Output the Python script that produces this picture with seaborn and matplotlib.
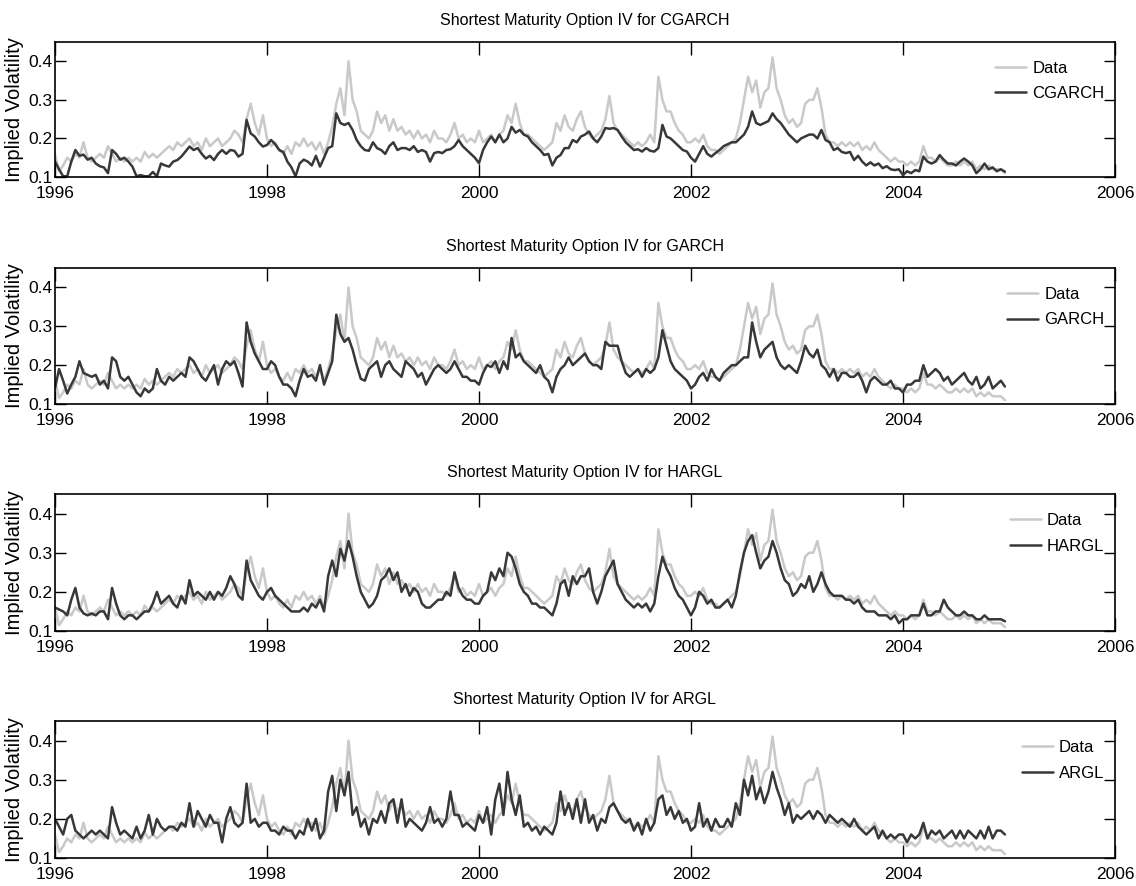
import numpy as np
import pandas as pd
import matplotlib
matplotlib.use("Agg")
import matplotlib.pyplot as plt
import seaborn as sns

# Bi-weekly implied volatility of the shortest-maturity option, 1996-2004
start_year = 1996
obs_per_year = 26

data_iv = [
    # 1996
    0.16, 0.115, 0.13, 0.15, 0.14, 0.16, 0.15, 0.19, 0.15, 0.14, 0.15, 0.16, 0.15,
    0.18, 0.16, 0.14, 0.15, 0.14, 0.15, 0.14, 0.15, 0.14, 0.165, 0.15, 0.16, 0.15,
    # 1997
    0.16, 0.17, 0.18, 0.17, 0.19, 0.18, 0.19, 0.20, 0.18, 0.19, 0.17, 0.20, 0.18,
    0.19, 0.20, 0.18, 0.19, 0.20, 0.22, 0.21, 0.19, 0.25, 0.29, 0.24, 0.21, 0.26,
    # 1998
    0.20, 0.18, 0.19, 0.17, 0.16, 0.18, 0.16, 0.19, 0.18, 0.20, 0.18, 0.19, 0.17,
    0.19, 0.16, 0.19, 0.23, 0.29, 0.33, 0.26, 0.40, 0.30, 0.27, 0.22, 0.21, 0.20,
    # 1999
    0.22, 0.27, 0.24, 0.26, 0.22, 0.25, 0.22, 0.23, 0.21, 0.22, 0.20, 0.22, 0.20,
    0.21, 0.19, 0.22, 0.20, 0.20, 0.19, 0.21, 0.24, 0.20, 0.21, 0.19, 0.20, 0.19,
    # 2000
    0.22, 0.19, 0.20, 0.21, 0.19, 0.21, 0.22, 0.26, 0.24, 0.29, 0.24, 0.21, 0.21,
    0.20, 0.19, 0.18, 0.17, 0.18, 0.19, 0.24, 0.22, 0.26, 0.23, 0.22, 0.25, 0.27,
    # 2001
    0.23, 0.21, 0.20, 0.21, 0.22, 0.25, 0.31, 0.24, 0.22, 0.21, 0.20, 0.19, 0.18,
    0.19, 0.18, 0.19, 0.21, 0.19, 0.36, 0.30, 0.27, 0.27, 0.24, 0.22, 0.21, 0.19,
    # 2002
    0.19, 0.20, 0.19, 0.21, 0.18, 0.17, 0.17, 0.16, 0.17, 0.18, 0.19, 0.20, 0.24,
    0.30, 0.36, 0.32, 0.35, 0.28, 0.32, 0.33, 0.41, 0.33, 0.30, 0.26, 0.24, 0.25,
    # 2003
    0.23, 0.24, 0.29, 0.30, 0.30, 0.33, 0.28, 0.21, 0.19, 0.19, 0.18, 0.19, 0.18,
    0.19, 0.18, 0.19, 0.17, 0.18, 0.17, 0.19, 0.17, 0.16, 0.15, 0.14, 0.15, 0.14,
    # 2004
    0.14, 0.13, 0.14, 0.13, 0.14, 0.18, 0.15, 0.15, 0.14, 0.15, 0.14, 0.13, 0.13,
    0.14, 0.13, 0.14, 0.13, 0.14, 0.12, 0.13, 0.12, 0.13, 0.12, 0.12, 0.12, 0.11,
]

cgarch_iv = [
    0.14, 0.12, 0.102, 0.102, 0.14, 0.17, 0.155, 0.158, 0.145, 0.15, 0.135, 0.128, 0.125,
    0.11, 0.17, 0.16, 0.145, 0.15, 0.14, 0.127, 0.102, 0.105, 0.102, 0.102, 0.113, 0.102,
    0.135, 0.13, 0.127, 0.14, 0.144, 0.153, 0.166, 0.179, 0.17, 0.175, 0.16, 0.148, 0.155,
    0.144, 0.16, 0.17, 0.16, 0.17, 0.168, 0.153, 0.16, 0.248, 0.213, 0.205, 0.19, 0.179,
    0.183, 0.196, 0.185, 0.17, 0.165, 0.14, 0.125, 0.102, 0.135, 0.145, 0.14, 0.13, 0.155,
    0.127, 0.15, 0.175, 0.18, 0.265, 0.24, 0.235, 0.24, 0.222, 0.196, 0.18, 0.17, 0.168,
    0.19, 0.175, 0.17, 0.16, 0.18, 0.19, 0.17, 0.175, 0.175, 0.17, 0.18, 0.165, 0.17,
    0.165, 0.14, 0.162, 0.165, 0.162, 0.17, 0.172, 0.18, 0.196, 0.18, 0.17, 0.16, 0.15,
    0.136, 0.17, 0.19, 0.205, 0.19, 0.21, 0.19, 0.20, 0.23, 0.215, 0.222, 0.21, 0.205,
    0.19, 0.18, 0.17, 0.157, 0.16, 0.13, 0.15, 0.157, 0.175, 0.175, 0.196, 0.19, 0.205,
    0.21, 0.218, 0.20, 0.19, 0.205, 0.227, 0.225, 0.227, 0.222, 0.205, 0.19, 0.18, 0.17,
    0.172, 0.166, 0.175, 0.168, 0.166, 0.175, 0.235, 0.205, 0.20, 0.19, 0.18, 0.17, 0.166,
    0.15, 0.14, 0.16, 0.18, 0.16, 0.153, 0.162, 0.17, 0.18, 0.185, 0.19, 0.19, 0.20,
    0.21, 0.23, 0.27, 0.24, 0.235, 0.24, 0.245, 0.265, 0.25, 0.24, 0.225, 0.21, 0.20,
    0.19, 0.20, 0.205, 0.21, 0.21, 0.20, 0.222, 0.196, 0.19, 0.17, 0.175, 0.165, 0.162,
    0.165, 0.144, 0.155, 0.14, 0.13, 0.138, 0.13, 0.135, 0.123, 0.128, 0.12, 0.118, 0.12,
    0.105, 0.115, 0.11, 0.118, 0.115, 0.153, 0.14, 0.135, 0.14, 0.157, 0.145, 0.135, 0.135,
    0.13, 0.14, 0.148, 0.14, 0.13, 0.11, 0.12, 0.135, 0.12, 0.125, 0.115, 0.12, 0.114,
]

garch_iv = [
    0.14, 0.19, 0.16, 0.127, 0.15, 0.17, 0.21, 0.18, 0.175, 0.17, 0.175, 0.15, 0.16,
    0.14, 0.22, 0.21, 0.17, 0.16, 0.17, 0.15, 0.13, 0.12, 0.14, 0.13, 0.14, 0.19,
    0.16, 0.15, 0.17, 0.16, 0.17, 0.18, 0.17, 0.22, 0.21, 0.19, 0.17, 0.16, 0.18,
    0.20, 0.15, 0.19, 0.21, 0.20, 0.21, 0.18, 0.145, 0.31, 0.26, 0.23, 0.21, 0.19,
    0.19, 0.21, 0.20, 0.17, 0.15, 0.15, 0.14, 0.12, 0.16, 0.19, 0.17, 0.175, 0.16,
    0.20, 0.15, 0.18, 0.21, 0.33, 0.28, 0.26, 0.27, 0.24, 0.20, 0.165, 0.16, 0.19,
    0.20, 0.21, 0.17, 0.20, 0.21, 0.19, 0.18, 0.17, 0.21, 0.20, 0.19, 0.17, 0.18,
    0.15, 0.17, 0.19, 0.20, 0.19, 0.18, 0.19, 0.21, 0.19, 0.17, 0.17, 0.16, 0.16,
    0.15, 0.18, 0.20, 0.195, 0.21, 0.18, 0.21, 0.19, 0.27, 0.22, 0.23, 0.21, 0.20,
    0.19, 0.18, 0.20, 0.17, 0.16, 0.13, 0.17, 0.19, 0.20, 0.22, 0.20, 0.21, 0.22,
    0.23, 0.21, 0.20, 0.20, 0.19, 0.26, 0.25, 0.25, 0.25, 0.21, 0.18, 0.17, 0.18,
    0.19, 0.17, 0.19, 0.18, 0.19, 0.22, 0.29, 0.25, 0.21, 0.19, 0.18, 0.17, 0.16,
    0.14, 0.15, 0.17, 0.18, 0.16, 0.19, 0.17, 0.16, 0.18, 0.19, 0.20, 0.20, 0.21,
    0.22, 0.22, 0.31, 0.26, 0.22, 0.24, 0.25, 0.26, 0.22, 0.20, 0.19, 0.20, 0.19,
    0.18, 0.21, 0.25, 0.23, 0.22, 0.24, 0.20, 0.19, 0.17, 0.19, 0.16, 0.18, 0.18,
    0.17, 0.17, 0.18, 0.16, 0.13, 0.16, 0.17, 0.16, 0.15, 0.15, 0.16, 0.14, 0.14,
    0.13, 0.15, 0.15, 0.16, 0.16, 0.20, 0.17, 0.18, 0.19, 0.18, 0.16, 0.17, 0.15,
    0.16, 0.17, 0.18, 0.16, 0.15, 0.17, 0.14, 0.15, 0.17, 0.14, 0.15, 0.16, 0.145,
]

hargl_iv = [
    0.16, 0.155, 0.15, 0.14, 0.18, 0.21, 0.16, 0.145, 0.14, 0.145, 0.14, 0.15, 0.15,
    0.13, 0.21, 0.17, 0.14, 0.13, 0.14, 0.14, 0.13, 0.14, 0.15, 0.15, 0.17, 0.20,
    0.17, 0.18, 0.19, 0.17, 0.16, 0.19, 0.17, 0.23, 0.19, 0.20, 0.19, 0.18, 0.20,
    0.18, 0.20, 0.19, 0.21, 0.24, 0.22, 0.19, 0.18, 0.28, 0.23, 0.21, 0.19, 0.18,
    0.20, 0.21, 0.19, 0.18, 0.17, 0.16, 0.15, 0.15, 0.15, 0.16, 0.15, 0.17, 0.16,
    0.18, 0.15, 0.24, 0.28, 0.24, 0.31, 0.28, 0.33, 0.29, 0.24, 0.20, 0.18, 0.16,
    0.17, 0.19, 0.23, 0.24, 0.26, 0.23, 0.25, 0.20, 0.22, 0.19, 0.21, 0.20, 0.17,
    0.16, 0.16, 0.17, 0.18, 0.18, 0.20, 0.19, 0.25, 0.21, 0.19, 0.18, 0.18, 0.17,
    0.17, 0.19, 0.20, 0.25, 0.23, 0.26, 0.24, 0.30, 0.29, 0.26, 0.22, 0.20, 0.19,
    0.17, 0.17, 0.16, 0.16, 0.15, 0.14, 0.17, 0.22, 0.23, 0.19, 0.24, 0.22, 0.24,
    0.24, 0.26, 0.20, 0.17, 0.20, 0.24, 0.26, 0.28, 0.22, 0.20, 0.18, 0.17, 0.16,
    0.17, 0.16, 0.17, 0.15, 0.17, 0.24, 0.29, 0.26, 0.24, 0.21, 0.19, 0.18, 0.16,
    0.14, 0.16, 0.20, 0.19, 0.17, 0.18, 0.16, 0.16, 0.17, 0.18, 0.16, 0.19, 0.25,
    0.30, 0.33, 0.345, 0.30, 0.26, 0.28, 0.29, 0.33, 0.30, 0.26, 0.23, 0.22, 0.19,
    0.20, 0.22, 0.21, 0.24, 0.20, 0.22, 0.25, 0.22, 0.20, 0.19, 0.19, 0.19, 0.18,
    0.18, 0.17, 0.18, 0.16, 0.15, 0.15, 0.15, 0.14, 0.14, 0.14, 0.13, 0.14, 0.12,
    0.13, 0.13, 0.14, 0.14, 0.14, 0.17, 0.14, 0.14, 0.15, 0.15, 0.18, 0.16, 0.15,
    0.14, 0.14, 0.15, 0.14, 0.14, 0.13, 0.13, 0.14, 0.13, 0.13, 0.13, 0.13, 0.125,
]

argl_iv = [
    0.20, 0.18, 0.16, 0.20, 0.21, 0.17, 0.16, 0.15, 0.16, 0.17, 0.16, 0.17, 0.16,
    0.15, 0.23, 0.19, 0.16, 0.17, 0.16, 0.15, 0.18, 0.15, 0.17, 0.21, 0.16, 0.20,
    0.18, 0.17, 0.18, 0.18, 0.17, 0.19, 0.18, 0.24, 0.18, 0.22, 0.20, 0.18, 0.21,
    0.19, 0.19, 0.14, 0.20, 0.23, 0.19, 0.18, 0.19, 0.29, 0.19, 0.20, 0.18, 0.19,
    0.19, 0.17, 0.17, 0.16, 0.18, 0.17, 0.17, 0.15, 0.17, 0.16, 0.20, 0.17, 0.20,
    0.15, 0.17, 0.27, 0.31, 0.22, 0.30, 0.26, 0.32, 0.21, 0.23, 0.18, 0.20, 0.16,
    0.20, 0.19, 0.22, 0.19, 0.24, 0.25, 0.19, 0.25, 0.18, 0.20, 0.19, 0.18, 0.17,
    0.19, 0.23, 0.19, 0.20, 0.18, 0.20, 0.27, 0.21, 0.21, 0.18, 0.19, 0.18, 0.17,
    0.21, 0.19, 0.23, 0.16, 0.25, 0.29, 0.21, 0.32, 0.25, 0.21, 0.26, 0.18, 0.19,
    0.17, 0.18, 0.16, 0.18, 0.17, 0.16, 0.19, 0.27, 0.21, 0.24, 0.20, 0.25, 0.19,
    0.25, 0.19, 0.21, 0.17, 0.20, 0.19, 0.23, 0.24, 0.22, 0.20, 0.19, 0.20, 0.17,
    0.19, 0.16, 0.20, 0.17, 0.19, 0.25, 0.26, 0.21, 0.23, 0.20, 0.22, 0.19, 0.20,
    0.17, 0.18, 0.24, 0.18, 0.20, 0.17, 0.20, 0.18, 0.18, 0.20, 0.18, 0.24, 0.21,
    0.30, 0.26, 0.31, 0.25, 0.28, 0.24, 0.27, 0.32, 0.28, 0.25, 0.21, 0.24, 0.19,
    0.21, 0.20, 0.21, 0.22, 0.20, 0.22, 0.21, 0.19, 0.21, 0.20, 0.19, 0.20, 0.19,
    0.18, 0.20, 0.18, 0.17, 0.16, 0.17, 0.18, 0.15, 0.17, 0.15, 0.16, 0.15, 0.16,
    0.16, 0.14, 0.16, 0.15, 0.16, 0.19, 0.15, 0.17, 0.16, 0.17, 0.15, 0.16, 0.17,
    0.15, 0.17, 0.15, 0.17, 0.16, 0.15, 0.17, 0.15, 0.18, 0.15, 0.17, 0.17, 0.16,
]

models = ["CGARCH", "GARCH", "HARGL", "ARGL"]
model_iv = {"CGARCH": cgarch_iv, "GARCH": garch_iv, "HARGL": hargl_iv, "ARGL": argl_iv}
year_ticks = [1996, 1998, 2000, 2002, 2004, 2006]
vol_ticks = [0.1, 0.2, 0.3, 0.4]

for name, series in model_iv.items():
    assert len(series) == len(data_iv), (name, len(series), len(data_iv))

sns.set_style("ticks")
plt.rcParams["font.family"] = ["Liberation Sans Narrow", "Liberation Sans", "DejaVu Sans"]
plt.rcParams.update({
    "text.color": "black",
    "axes.labelcolor": "black",
    "axes.titlecolor": "black",
    "xtick.color": "black",
    "ytick.color": "black",
    "xtick.labelcolor": "black",
    "ytick.labelcolor": "black",
})

n_obs = len(data_iv)
years = start_year + np.arange(n_obs) / obs_per_year

fig = plt.figure(figsize=(11.36, 8.86), dpi=100)
panel_boxes = [
    (0.0484, 0.8002, 0.9331, 0.1524),
    (0.0484, 0.5440, 0.9331, 0.1535),
    (0.0484, 0.2878, 0.9331, 0.1546),
    (0.0484, 0.0316, 0.9331, 0.1546),
]

for name, box in zip(models, panel_boxes):
    ax = fig.add_axes(box)
    frame = pd.DataFrame({
        "year": np.concatenate([years, years]),
        "iv": list(data_iv) + list(model_iv[name]),
        "series": ["Data"] * n_obs + [name] * n_obs,
    })
    sns.lineplot(
        data=frame, x="year", y="iv", hue="series", hue_order=["Data", name],
        palette={"Data": "#c9c9c9", name: "#383838"}, linewidth=1.8,
        estimator=None, ax=ax,
    )
    ax.set_xlim(1996, 2006)
    ax.set_ylim(0.1, 0.45)
    ax.set_xticks(year_ticks)
    ax.set_xticklabels([str(y) for y in year_ticks])
    ax.set_yticks(vol_ticks)
    ax.set_yticklabels([f"{v:.1f}" for v in vol_ticks])
    ax.tick_params(direction="in", top=True, right=True, width=1.0,
                   labelsize=12.5, color="black")
    ax.tick_params(axis="x", pad=6.5, length=9.5)
    ax.tick_params(axis="y", pad=2, length=8)
    for spine in ax.spines.values():
        spine.set_visible(True)
        spine.set_linewidth(1.2)
        spine.set_color("black")
    ax.set_xlabel("")
    ax.set_ylabel("Implied Volatility", fontsize=14.5, labelpad=3,
                  family=["Liberation Sans", "DejaVu Sans"])
    ax.set_title(f"Shortest Maturity Option IV for {name}", fontsize=11.5, pad=12)
    handles, labels = ax.get_legend_handles_labels()
    ax.legend(handles, labels, loc="upper right", bbox_to_anchor=(0.99, 0.86),
              frameon=False, fontsize=12, handlelength=1.9, handletextpad=0.35,
              labelspacing=0.62, borderaxespad=0.0, borderpad=0.0)

fig.savefig("out.png", dpi=100)
